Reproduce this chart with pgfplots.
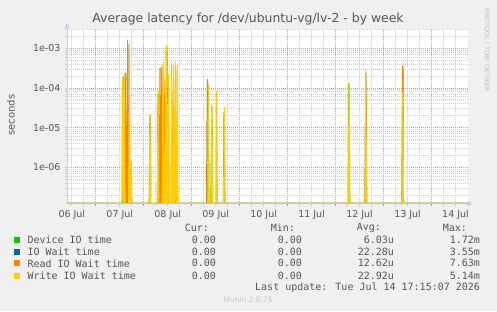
\documentclass[border=0pt]{standalone}
\usepackage{pgfplots}
\pgfplotsset{compat=1.18}
\usepackage{fontspec}
\setmainfont{DejaVu Sans}
\newfontfamily\monofont{DejaVu Sans Mono}
\definecolor{bgc}{HTML}{F0F0F0}
\definecolor{cgreen}{HTML}{00CC00}
\definecolor{cblue}{HTML}{0066B3}
\definecolor{corange}{HTML}{FF8000}
\definecolor{cyellow}{HTML}{FFCC00}
\definecolor{mgrid}{HTML}{E49494}
\definecolor{ngrid}{HTML}{CCCCCC}
\definecolor{axc}{HTML}{C8C8F0}
\definecolor{txt}{HTML}{555555}
\def\B{1.22e-7}
\tikzset{gdash/.style={dash pattern=on 1pt off 1pt, line width=0.8pt}}
\begin{document}
\begin{tikzpicture}[x=1pt,y=1pt]
\path[use as bounding box, fill=bgc] (0,0) rectangle (497,311);
\begin{axis}[
  at={(67pt,107.5pt)}, anchor=south west,
  scale only axis, width=400.5pt, height=175pt,
  ymode=log, xmin=0.40, xmax=8.75, ymin=1.22e-7, ymax=3.15e-3,
  axis background/.style={fill=white},
  axis x line*=bottom, axis y line*=left,
  axis line style={axc, line width=0.6pt},
  xtick={0.5,0.75,1.25,1.5,1.75,2.25,2.5,2.75,3.25,3.5,3.75,4.25,4.5,4.75,5.25,5.5,5.75,6.25,6.5,6.75,7.25,7.5,7.75,8.25,8.5},
  xticklabels={06 Jul,,,07 Jul,,,08 Jul,,,09 Jul,,,10 Jul,,,11 Jul,,,12 Jul,,,13 Jul,,,14 Jul},
  xmajorgrids=true,
  x grid style={ngrid, gdash},
  extra x ticks={1,2,3,4,5,6,7,8},
  extra x tick labels={},
  extra x tick style={x grid style={mgrid, gdash}, major tick style={mgrid, line width=0.6pt}},
  ytick={1e-6,1e-5,1e-4,1e-3},
  yticklabels={1e-06,1e-05,1e-04,1e-03},
  minor ytick={2e-7,3e-7,4e-7,5e-7,6e-7,7e-7,8e-7,9e-7,2e-6,3e-6,4e-6,5e-6,6e-6,7e-6,8e-6,9e-6,2e-5,3e-5,4e-5,5e-5,6e-5,7e-5,8e-5,9e-5,2e-4,3e-4,4e-4,5e-4,6e-4,7e-4,8e-4,9e-4,2e-3,3e-3},
  ymajorgrids=true, yminorgrids=true,
  major grid style={mgrid, gdash},
  minor grid style={ngrid, gdash},
  tick align=outside, major tick length=2pt, minor tick length=2pt,
  minor tick style={ngrid, line width=0.6pt},
  major tick style={ngrid, line width=0.6pt},
  tick label style={font=\fontsize{9.5}{11}\selectfont, text=txt},
  xticklabel style={yshift=-1pt},
  yticklabel style={xshift=-1pt},
  clip=true,
]
% Device IO time (green)
\addplot[cgreen, line width=1.1pt] coordinates {
(0.40,\B)(1.555,\B)(1.57,1.9e-4)(1.585,\B)(1.60,\B)(1.612,2.4e-4)(1.625,\B)(1.73,\B)(1.74,1.4e-6)(1.75,\B)
(2.115,\B)(2.13,2.0e-5)(2.145,\B)(2.285,\B)(2.30,7e-5)(2.315,\B)(2.335,\B)(2.35,3e-5)(2.365,\B)
(2.485,\B)(2.50,4.5e-5)(2.515,\B)(2.655,\B)(2.67,1.3e-6)(2.675,2.5e-7)(2.685,\B)
(3.40,\B)(3.42,3.5e-5)(3.435,\B)(3.66,\B)(3.675,2.5e-5)(3.69,\B)
(6.265,\B)(6.28,1.3e-4)(6.295,\B)(8.75,\B)};
% IO Wait time (blue)
\addplot[cblue, line width=1.1pt] coordinates {
(0.40,\B)(1.65,\B)(1.665,1.3e-3)(1.68,\B)(2.465,\B)(2.48,9e-4)(2.495,\B)
(3.315,\B)(3.33,1.4e-4)(3.345,\B)(6.615,\B)(6.63,2.4e-4)(6.645,\B)(7.385,\B)(7.40,2.8e-4)(7.415,\B)(8.75,\B)};
% Read IO Wait time (orange)
\addplot[corange, line width=1.1pt] coordinates {
(0.40,\B)(1.605,\B)(1.62,2e-4)(1.635,\B)(1.65,\B)(1.665,1.65e-3)(1.68,\B)
(2.325,\B)(2.34,3.3e-4)(2.355,\B)(2.36,\B)(2.375,3.3e-4)(2.39,\B)(2.41,\B)(2.425,1.5e-4)(2.44,\B)
(2.59,\B)(2.60,1.2e-5)(2.61,\B)(3.315,\B)(3.33,1.7e-4)(3.345,\B)
(6.615,\B)(6.63,2e-4)(6.645,\B)(7.385,\B)(7.40,3.6e-4)(7.415,\B)(8.75,\B)};
% Write IO Wait time (yellow)
\addplot[cyellow, line width=1.1pt] coordinates {
(0.40,\B)(1.545,\B)(1.56,1.6e-4)(1.575,\B)(1.58,\B)(1.595,2.2e-4)(1.61,\B)(1.685,\B)(1.70,1.26e-3)(1.715,\B)(1.73,\B)(1.74,1.4e-6)(1.75,\B)
(2.115,\B)(2.13,2.2e-5)(2.145,\B)(2.285,\B)(2.30,8.6e-5)(2.315,\B)
(2.385,\B)(2.40,4.1e-4)(2.41,\B)(2.415,4.5e-4)(2.425,\B)(2.45,\B)(2.465,8.9e-4)(2.475,\B)(2.48,1.2e-3)(2.49,\B)
(2.505,\B)(2.52,2.3e-4)(2.535,\B)(2.565,\B)(2.58,4.1e-4)(2.595,\B)(2.605,\B)(2.62,3.7e-4)(2.635,\B)
(2.645,\B)(2.66,4.5e-4)(2.675,\B)(2.685,\B)(2.70,4.1e-4)(2.715,\B)
(3.335,\B)(3.35,1.2e-4)(3.365,\B)(3.405,\B)(3.42,4e-5)(3.435,\B)(3.505,\B)(3.52,8.3e-5)(3.535,\B)(3.665,\B)(3.68,3.3e-5)(3.695,\B)
(6.265,\B)(6.28,1.3e-4)(6.295,\B)(6.615,\B)(6.63,2.9e-4)(6.645,\B)(7.385,\B)(7.40,8e-5)(7.415,\B)(8.75,\B)};
\end{axis}
% axis arrows
\fill[axc] (467.5,104.5) -- (472.5,107.5) -- (467.5,110.5) -- cycle;
\fill[axc] (64,282.5) -- (67,288) -- (70,282.5) -- cycle;
% y label
\node[text=txt, font=\fontsize{10}{12}\selectfont, rotate=90] at (11,196) {seconds};
% title
\node[text=txt, font=\fontsize{12.4}{14}\selectfont] at (248,292) {Average latency for /dev/ubuntu-vg/lv-2 - by week};
% rrdtool
\node[text=black!25, font=\fontsize{6.5}{7}\selectfont, rotate=-90, anchor=west] at (487,306) {RRDTOOL / TOBI OETIKER};
% legend
\begin{scope}[font=\monofont\fontsize{10}{12}\selectfont, text=txt]
\node[anchor=east] at (212.5,83) {Cur:};
\node[anchor=east] at (298.5,83) {Min:};
\node[anchor=east] at (384.5,83) {Avg:};
\node[anchor=east] at (470.5,83) {Max:};
\fill[cgreen] (14,68.3) rectangle (20,74.3);
\fill[cblue] (14,56.3) rectangle (20,62.3);
\fill[corange] (14,44.7) rectangle (20,50.7);
\fill[cyellow] (14,32.3) rectangle (20,38.3);
\node[anchor=west] at (24,71.3) {Device IO time};
\node[anchor=west] at (24,59.3) {IO Wait time};
\node[anchor=west] at (24,47.7) {Read IO Wait time};
\node[anchor=west] at (24,35.3) {Write IO Wait time};
\node[anchor=east] at (219.5,71.3) {0.00};
\node[anchor=east] at (305.5,71.3) {0.00};
\node[anchor=east] at (397.5,71.3) {6.03u};
\node[anchor=east] at (483.5,71.3) {1.72m};
\node[anchor=east] at (219.5,59.3) {0.00};
\node[anchor=east] at (305.5,59.3) {0.00};
\node[anchor=east] at (397.5,59.3) {22.28u};
\node[anchor=east] at (483.5,59.3) {3.55m};
\node[anchor=east] at (219.5,47.7) {0.00};
\node[anchor=east] at (305.5,47.7) {0.00};
\node[anchor=east] at (397.5,47.7) {12.62u};
\node[anchor=east] at (483.5,47.7) {7.63m};
\node[anchor=east] at (219.5,35.3) {0.00};
\node[anchor=east] at (305.5,35.3) {0.00};
\node[anchor=east] at (397.5,35.3) {22.92u};
\node[anchor=east] at (483.5,35.3) {5.14m};
\node[anchor=east] at (483.5,23.3) {Last update: Tue Jul 14 17:15:07 2026};
\end{scope}
\node[text=black!22, font=\fontsize{7.5}{9}\selectfont] at (248,11) {Munin 2.0.75};
\end{tikzpicture}
\end{document}
